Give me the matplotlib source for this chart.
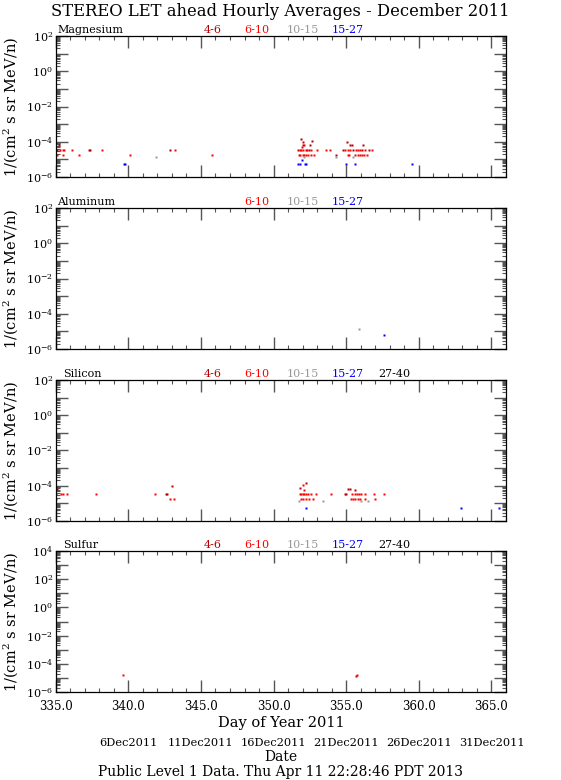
import math
import matplotlib
matplotlib.use("Agg")
import matplotlib.pyplot as plt
from matplotlib.ticker import FixedLocator, MultipleLocator, NullFormatter, FuncFormatter
from matplotlib.transforms import blended_transform_factory

plt.rcParams['font.family'] = ['DejaVu Serif']
plt.rcParams['mathtext.fontset'] = 'dejavuserif'

# channel colours (MeV/n ranges)
channels = ['4-6', '6-10', '10-15', '15-27', '27-40']
chan_colors = ['#b40000', '#ff0000', '#999999', '#0000ff', '#000000']

# ---- Magnesium ----
mg_46_day = [335.1, 335.2, 337.3, 337.35, 342.9, 351.7, 351.9, 352.0, 352.05, 352.2, 352.45, 352.5,
             352.65, 354.3, 354.8, 355.04, 355.25, 355.4, 355.5, 356.1, 356.15, 356.6]
mg_46_flux = [3.4e-5, 6.8e-5, 3.4e-5, 3.4e-5, 3.4e-5, 3.4e-5, 1.4e-4, 6.8e-5, 1.0e-4, 3.4e-5, 3.4e-5, 6.8e-5,
              1.1e-4, 1.7e-5, 3.4e-5, 1.0e-4, 6.8e-5, 6.8e-5, 3.4e-5, 3.4e-5, 6.8e-5, 3.4e-5]
mg_610_day = [335.1, 335.3, 335.47, 335.53, 335.6, 336.13, 336.58, 338.2, 340.13, 343.2, 345.75,
              351.75, 351.8, 351.85, 351.9, 351.95, 352.0, 352.0, 352.1, 352.1, 352.25, 352.3, 352.4,
              352.6, 352.6, 352.8, 353.0, 353.6, 353.9,
              354.95, 355.1, 355.1, 355.2, 355.25, 355.6, 355.65, 355.8, 355.8, 355.95, 355.95,
              356.1, 356.25, 356.3, 356.4, 356.8]
mg_610_flux = [1.7e-5, 3.4e-5, 3.4e-5, 1.7e-5, 3.4e-5, 3.4e-5, 1.7e-5, 3.4e-5, 1.7e-5, 3.4e-5, 1.7e-5,
               1.7e-5, 3.4e-5, 1.7e-5, 3.4e-5, 5.0e-5, 3.4e-5, 1.7e-5, 6.8e-5, 1.7e-5, 1.7e-5, 3.4e-5, 1.7e-5,
               3.4e-5, 1.7e-5, 1.7e-5, 3.4e-5, 3.4e-5, 3.4e-5,
               3.4e-5, 3.4e-5, 1.7e-5, 1.7e-5, 3.4e-5, 1.7e-5, 3.4e-5, 3.4e-5, 1.7e-5, 3.4e-5, 1.7e-5,
               1.7e-5, 1.7e-5, 3.4e-5, 1.7e-5, 3.4e-5]
mg_1015_day = [341.9, 352.1, 354.3, 355.5]
mg_1015_flux = [1.3e-5, 1.3e-5, 1.3e-5, 1.3e-5]
mg_1527_day = [339.7, 339.8, 351.67, 351.8, 351.95, 352.15, 352.25, 355.0, 355.6, 359.5]
mg_1527_flux = [5.5e-6, 5.5e-6, 5.5e-6, 5.5e-6, 9.0e-6, 5.5e-6, 5.5e-6, 5.5e-6, 5.5e-6, 5.5e-6]

# ---- Aluminum ----
al_1015_day = [355.9]
al_1015_flux = [1.3e-5]
al_1527_day = [357.6]
al_1527_flux = [6.0e-6]

# ---- Silicon ----
si_46_day = [335.05, 335.1, 342.6, 342.65, 343.0, 351.8, 352.2, 354.9, 355.0, 355.1, 355.25, 355.6]
si_46_flux = [8.0e-5, 6.8e-5, 3.4e-5, 3.4e-5, 1.0e-4, 7.0e-5, 1.5e-4, 3.4e-5, 3.4e-5, 6.8e-5, 6.8e-5, 6.0e-5]
si_610_day = [335.05, 335.05, 335.36, 335.47, 335.8, 337.78, 341.82, 342.86, 343.16,
              351.8, 351.9, 351.9, 352.0, 352.0, 352.05, 352.1, 352.1, 352.2, 352.2, 352.4, 352.45,
              352.6, 352.7, 352.9, 353.95,
              355.3, 355.4, 355.45, 355.6, 355.6, 355.75, 355.8, 355.9, 355.95, 356.0, 356.3, 356.3,
              356.9, 356.96, 357.6]
si_610_flux = [3.4e-5, 1.8e-5, 3.4e-5, 3.4e-5, 3.4e-5, 3.4e-5, 3.4e-5, 1.7e-5, 1.7e-5,
               3.4e-5, 3.4e-5, 1.7e-5, 3.4e-5, 1.1e-4, 1.7e-5, 3.4e-5, 5.6e-5, 3.4e-5, 1.7e-5, 3.4e-5, 1.7e-5,
               3.4e-5, 1.7e-5, 3.4e-5, 3.4e-5,
               1.7e-5, 3.4e-5, 1.7e-5, 3.4e-5, 1.7e-5, 3.4e-5, 1.7e-5, 3.4e-5, 1.7e-5, 3.4e-5, 3.4e-5, 1.7e-5,
               3.4e-5, 1.7e-5, 3.4e-5]
si_1015_day = [351.77, 353.4, 356.05, 356.5]
si_1015_flux = [1.3e-5, 1.3e-5, 1.3e-5, 1.3e-5]
si_1527_day = [352.2, 362.9, 365.5]
si_1527_flux = [5.5e-6, 5.5e-6, 5.5e-6]

# ---- Sulfur ----
s_46_day = [355.7]
s_46_flux = [1.3e-5]
s_610_day = [339.6, 355.75]
s_610_flux = [1.6e-5, 1.6e-5]

panels = [
    ('Magnesium', 2, [0, 1, 2, 3],
     [(mg_46_day, mg_46_flux, 0), (mg_610_day, mg_610_flux, 1),
      (mg_1015_day, mg_1015_flux, 2), (mg_1527_day, mg_1527_flux, 3)]),
    ('Aluminum', 2, [1, 2, 3],
     [(al_1015_day, al_1015_flux, 2), (al_1527_day, al_1527_flux, 3)]),
    ('Silicon', 2, [0, 1, 2, 3, 4],
     [(si_46_day, si_46_flux, 0), (si_610_day, si_610_flux, 1),
      (si_1015_day, si_1015_flux, 2), (si_1527_day, si_1527_flux, 3)]),
    ('Sulfur', 4, [0, 1, 2, 3, 4],
     [(s_46_day, s_46_flux, 0), (s_610_day, s_610_flux, 1)]),
]

date_days = [340, 345, 350, 355, 360, 365]
date_labels = ['6Dec2011', '11Dec2011', '16Dec2011', '21Dec2011', '26Dec2011', '31Dec2011']


def decade_label(v, pos):
    e = round(math.log10(v))
    return '$10^{%d}$' % e if e % 2 == 0 else ''


W, H = 561, 780
fig = plt.figure(figsize=(W / 100, H / 100), dpi=100)

left_px, right_px = 55.7, 506.0
tops = [36, 208, 380, 551]
ph = 141
legend_x = [0.349, 0.447, 0.549, 0.649, 0.751]

axes = []
for i, (name, ytop, shown, series) in enumerate(panels):
    ax = fig.add_axes([left_px / W, 1 - (tops[i] + ph) / H, (right_px - left_px) / W, ph / H])
    axes.append(ax)
    for d, f, c in series:
        ax.plot(d, f, 's', ms=1.8, mec='none', color=chan_colors[c])
    ax.set_yscale('log')
    ax.set_ylim(1e-6, 10.0 ** ytop)
    ax.set_xlim(335, 366)

    exps = list(range(-6, ytop + 1))
    ax.yaxis.set_major_locator(FixedLocator([10.0 ** e for e in exps]))
    minors = [m * 10.0 ** e for e in exps[:-1] for m in range(2, 10)]
    ax.yaxis.set_minor_locator(FixedLocator(minors))
    ax.yaxis.set_minor_formatter(NullFormatter())
    ax.yaxis.set_major_formatter(FuncFormatter(decade_label))

    ax.xaxis.set_major_locator(MultipleLocator(5))
    ax.xaxis.set_minor_locator(MultipleLocator(1))
    if i == 3:
        ax.xaxis.set_major_formatter(FuncFormatter(lambda v, p: '%.1f' % v))
        ax.set_xlabel('Day of Year 2011', fontsize=10.5, labelpad=2)
    else:
        ax.set_xticklabels([])

    ax.tick_params(which='both', direction='in', top=True, right=True, color='#555555')
    ax.tick_params(which='major', length=8.5, width=1.0)
    ax.tick_params(which='minor', length=3.0, width=0.8)
    ax.tick_params(axis='y', which='major', pad=2, labelsize=8)
    ax.tick_params(axis='x', which='major', pad=6, labelsize=8.5)
    for sp in ax.spines.values():
        sp.set_linewidth(0.9)
    ax.set_ylabel('1/(cm$^2$ s sr MeV/n)', fontsize=10.5, labelpad=4)

    nx = 0.003 if i < 2 else 0.016
    ax.text(nx, 1.005, name, transform=ax.transAxes, fontsize=8, va='bottom', ha='left')
    for k in shown:
        ax.text(legend_x[k], 1.005, channels[k], transform=ax.transAxes, fontsize=8,
                va='bottom', ha='center', color=chan_colors[k])

fig.text(0.5, 1 - 12 / H, 'STEREO LET ahead Hourly Averages - December 2011',
         ha='center', va='center', fontsize=11.8)

tr = blended_transform_factory(axes[3].transData, fig.transFigure)
for d, lab in zip(date_days, date_labels):
    fig.text(d, 1 - 743 / H, lab, transform=tr, ha='center', va='center', fontsize=8.2)
mid = (left_px + right_px) / 2 / W
fig.text(mid, 1 - 757 / H, 'Date', ha='center', va='center', fontsize=10)
fig.text(mid, 1 - 772 / H, 'Public Level 1 Data. Thu Apr 11 22:28:46 PDT 2013',
         ha='center', va='center', fontsize=10)

fig.savefig('out.png', dpi=100)
